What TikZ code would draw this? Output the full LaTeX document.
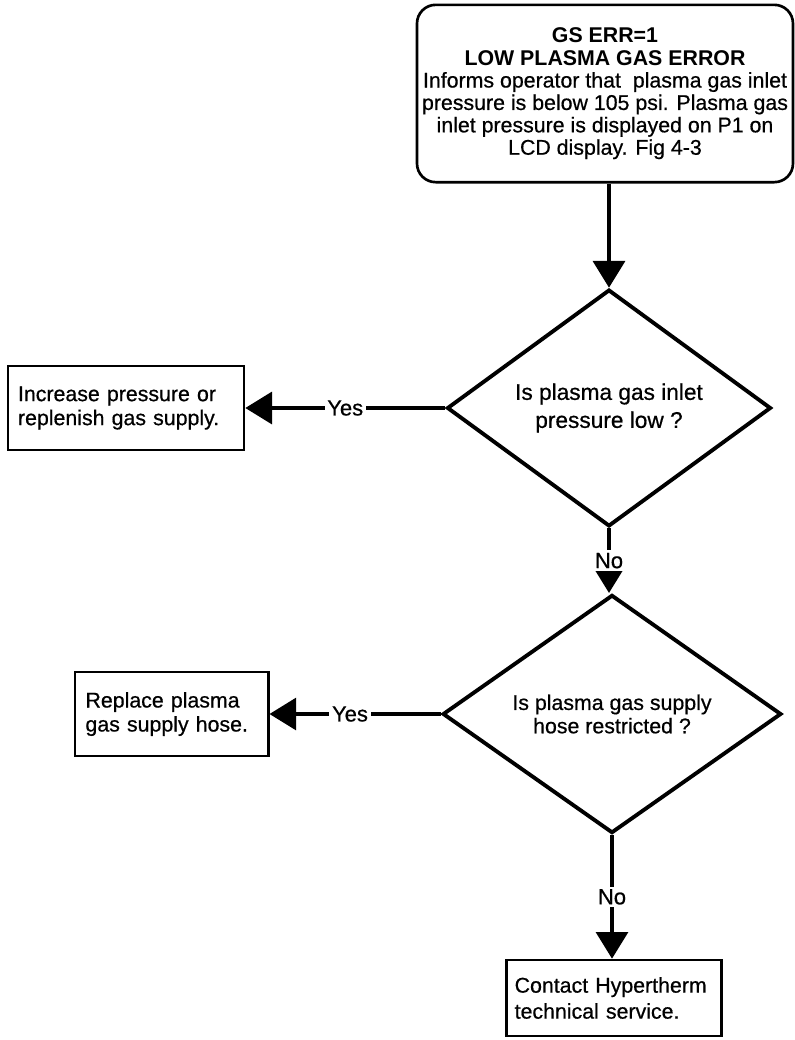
\documentclass[tikz,border=0pt]{standalone}
\usepackage{fontspec}
\setmainfont{Liberation Sans}[UprightFeatures={FakeBold=0.6}]
\usetikzlibrary{positioning,arrows.meta,shapes.geometric}
\tikzset{
  flowarrow/.style={-{Triangle[length=20pt, width=24pt]}, line width=2.4pt},
  startnode/.style={draw, rounded corners=14pt, line width=2pt, align=center, minimum width=282pt, minimum height=133pt, inner sep=0pt, font=\fontsize{16}{16.8}\selectfont},
  decnode/.style={draw, diamond, line width=2.9pt, align=center, inner sep=0pt, font=\fontsize{16}{17.5}\selectfont},
  actnode/.style={draw, line width=2pt, align=left, minimum height=63pt, inner xsep=7.5pt, font=\fontsize{16}{18}\selectfont},
  relabel/.style={fill=white, inner sep=2pt, font=\fontsize{16.5}{16.5}\selectfont}
}
\begin{document}
\begin{tikzpicture}[x=0.75pt, y=-0.75pt]
  \useasboundingbox (0,0) rectangle (794,1040);
  \node[startnode] (err) at (605,93.5) {\textbf{GS ERR=1}\\ \textbf{LOW PLASMA GAS ERROR}\\ Informs operator that\ \ plasma gas inlet\\ pressure is below 105 psi. Plasma gas\\ inlet pressure is displayed on P1 on\\ LCD display. Fig 4-3};
  \node[decnode, minimum width=243pt, minimum height=140pt, font=\fontsize{17}{21}\selectfont] (d1) at (609,408) {Is plasma gas inlet\\ pressure low ?};
  \node[decnode, minimum width=254pt, minimum height=156pt] (d2) at (612,714) {Is plasma gas supply\\ hose restricted ?};
  \node[actnode, text width=162pt] (b1) at (126,408) {Increase pressure or\\ replenish gas supply.};
  \node[actnode, text width=129pt, inner xsep=8pt] (b2) at (171.5,714) {Replace plasma\\ gas supply hose.};
  \node[actnode, text width=149pt, inner xsep=6pt, minimum height=57pt, font=\fontsize{16}{19.5}\selectfont] (b3) at (614,998) {Contact Hypertherm\\ technical service.};
  \draw[flowarrow] (err.south -| d1.north) -- (d1.north);
  \draw[flowarrow] (d1.west) -- node[relabel] {Yes} (b1.east);
  \draw[flowarrow] (d1.south) -- node[relabel] {No} (d1.south |- d2.north);
  \draw[flowarrow] (d2.west) -- node[relabel, pos=0.53] {Yes} (b2.east);
  \draw[flowarrow] (d2.south) -- node[relabel] {No} (d2.south |- b3.north);
\end{tikzpicture}
\end{document}
